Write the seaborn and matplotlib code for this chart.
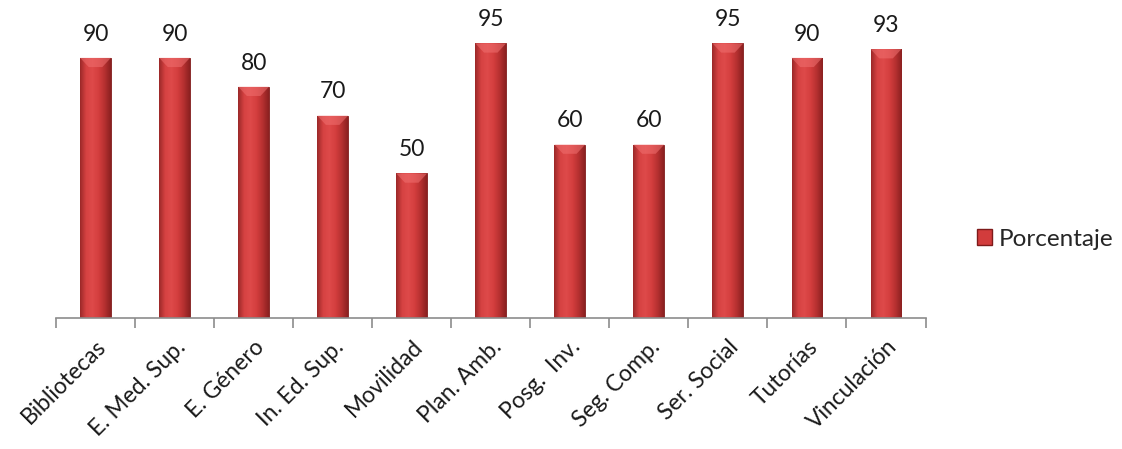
import matplotlib
matplotlib.use("Agg")
import matplotlib.pyplot as plt
import numpy as np
import pandas as pd
import seaborn as sns
from matplotlib.colors import LinearSegmentedColormap
from matplotlib.patches import Patch

categorias = ["Bibliotecas", "E. Med. Sup.", "E. Género", "In. Ed. Sup.", "Movilidad",
              "Plan. Amb.", "Posg.  Inv.", "Seg. Comp.", "Ser. Social", "Tutorías",
              "Vinculación"]
porcentaje = [90, 90, 80, 70, 50, 95, 60, 60, 95, 90, 93]

df = pd.DataFrame({"categoria": categorias, "Porcentaje": porcentaje})

sns.set_theme(style="white")
plt.rcParams["font.family"] = ["Lato", "DejaVu Sans"]

fig = plt.figure(figsize=(11.22, 4.49), dpi=100)
ax = fig.add_axes([0.0499, 0.2918, 0.775, 0.7082])

sns.barplot(data=df, x="categoria", y="Porcentaje", color="#D23C3C",
            width=0.39, edgecolor="#7E1A1A", linewidth=0.6, ax=ax)

# sombreado horizontal de cada barra
shade = LinearSegmentedColormap.from_list(
    "rojo", ["#9A2828", "#D64242", "#DE4A4A", "#D43E3E", "#B53030", "#8A2020"])
grad = np.linspace(0, 1, 256).reshape(1, -1)
for bar in ax.patches:
    x0, y0 = bar.get_x(), bar.get_y()
    w, h = bar.get_width(), bar.get_height()
    im = ax.imshow(grad, cmap=shade, aspect="auto",
                   extent=[x0, x0 + w, y0, y0 + h], zorder=bar.get_zorder() + 0.1)
    im.set_clip_path(bar)
    # bisel superior
    bh = 3.2
    ax.fill([x0, x0 + w, x0 + w * 0.72, x0 + w * 0.28],
            [y0 + h, y0 + h, y0 + h - bh, y0 + h - bh],
            color="#F07070", alpha=0.55, zorder=bar.get_zorder() + 0.2, lw=0)
    ax.annotate(f"{int(h)}", (x0 + w / 2, y0 + h), xytext=(0, 9.5),
                textcoords="offset points", ha="center", va="bottom",
                fontsize=16.5, color="#1a1a1a")

ax.set_xlim(-0.5, len(categorias) - 0.5)
ax.set_ylim(0, 110)
ax.set_xlabel("")
ax.set_ylabel("")
ax.set_yticks([])
for s in ["top", "right", "left"]:
    ax.spines[s].set_visible(False)
ax.spines["bottom"].set_color("#8c8c8c")
ax.spines["bottom"].set_linewidth(1.2)

ax.set_xticks(np.arange(len(categorias)))
ax.set_xticklabels(categorias, rotation=45, ha="right", rotation_mode="anchor",
                   fontsize=16.5, color="#1a1a1a")
ax.tick_params(axis="x", which="major", length=0, pad=13)
ax.set_xticks(np.arange(-0.5, len(categorias)), minor=True)
ax.tick_params(axis="x", which="minor", length=7, width=1.2, color="#8c8c8c",
               bottom=True)

handle = Patch(facecolor="#D23C3C", edgecolor="#7E1A1A", label="Porcentaje")
fig.legend(handles=[handle], loc="center left", bbox_to_anchor=(0.851, 0.467),
           frameon=False, fontsize=17.5, handlelength=0.65, handleheight=0.65,
           handletextpad=0.25)

fig.savefig("out.png", dpi=100)
